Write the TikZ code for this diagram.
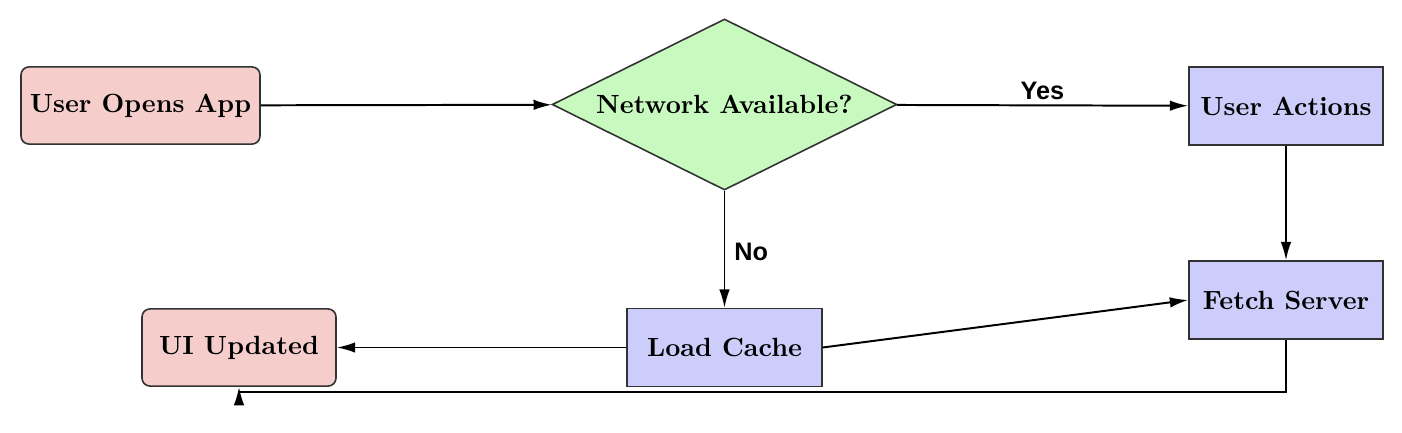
\documentclass[tikz,border=0pt]{standalone}
\usepackage{fontspec}
\newfontfamily\lblfont{Liberation Sans}
\usetikzlibrary{shapes.geometric,arrows.meta}
\definecolor{pinkfill}{RGB}{245,206,204}
\definecolor{bluefill}{RGB}{204,205,250}
\definecolor{greenfill}{RGB}{200,250,192}
\definecolor{edgegray}{RGB}{50,50,50}
\tikzset{
  base/.style={draw=edgegray, line width=0.6pt, font=\bfseries, inner sep=0pt, align=center},
  termbox/.style={base, rounded corners=3pt, fill=pinkfill, minimum height=29.3pt},
  procbox/.style={base, fill=bluefill, minimum width=73.7pt, minimum height=29.5pt},
  decbox/.style={base, diamond, fill=greenfill, minimum width=131pt, minimum height=65pt, aspect=2.02},
  conn/.style={draw=black, line width=0.75pt, -{Latex[length=7pt,width=4pt]}},
  lbl/.style={font=\lblfont\bfseries\fontsize{9.6}{11}\selectfont}
}
\begin{document}
\begin{tikzpicture}[x=0.38pt, y=-0.38pt]
\useasboundingbox (0,0) rectangle (1402,432);
\node[termbox, minimum width=90.8pt] (start) at (140.5,105.5) {User Opens App};
\node[decbox] (net) at (724.5,104.5) {Network Available?};
\node[procbox] (actions) at (1286,106) {User Actions};
\node[procbox] (fetch) at (1286,300) {Fetch Server};
\node[procbox, minimum width=74pt] (cache) at (724.5,347.5) {Load Cache};
\node[termbox, minimum width=73.7pt] (ui) at (239,347.5) {UI Updated};

\draw[conn] (start) -- (net);
\draw[conn] (net) -- node[lbl, above, yshift=-1.5pt] {Yes} (actions);
\draw[conn] (net) -- node[lbl, right, xshift=0pt, yshift=-1pt] {No} (cache);
\draw[conn] (actions) -- (fetch);
\draw[conn] (cache) -- (ui);
\draw[conn] (cache.east) -- (fetch.west);
\draw[conn] (fetch.south) -- ++(0,52) -| (ui.south);
\end{tikzpicture}
\end{document}
